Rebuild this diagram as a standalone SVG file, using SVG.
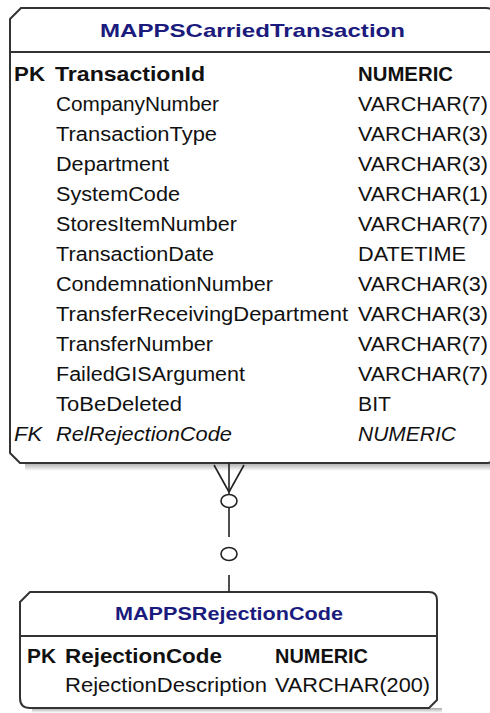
<svg xmlns="http://www.w3.org/2000/svg" width="490" height="713" viewBox="0 0 490 713">
<style>
.box{fill:#fff;stroke:#333;stroke-width:2}
.sep{stroke:#333;stroke-width:2}
.title{font-family:"Liberation Sans",Arial,sans-serif;font-weight:bold;font-size:19px;fill:#1b1b7d}
.row{font-family:"Liberation Sans",Arial,sans-serif;font-size:20px;fill:#111}
.pk{font-weight:bold}
.fk{font-style:italic}
.con{stroke:#222;stroke-width:1.6;fill:none}
</style>
<defs>
<linearGradient id="sh" x1="0" y1="0" x2="0" y2="1">
<stop offset="0" stop-color="#aaa"/>
<stop offset="1" stop-color="#fff"/>
</linearGradient>
</defs>
<rect width="490" height="713" fill="#fff"/>
<g id="MAPPSCarriedTransaction">
<rect x="25" y="463" width="470" height="8" fill="url(#sh)"/>
<path class="box" d="M10,19 L21,8 H486 Q494,8 494,16 V455 Q494,463 486,463 H20 L10,453 Z"/>
<line class="sep" x1="10" y1="52" x2="494" y2="52"/>
<text class="title" x="100" y="37" textLength="305" lengthAdjust="spacingAndGlyphs">MAPPSCarriedTransaction</text>
<g class="row">
<text class="pk" x="14" y="81" textLength="31" lengthAdjust="spacingAndGlyphs">PK</text>
<text class="pk" x="55" y="81" textLength="150" lengthAdjust="spacingAndGlyphs">TransactionId</text>
<text class="pk" x="358" y="81" textLength="95" lengthAdjust="spacingAndGlyphs">NUMERIC</text>
<text x="56" y="111" textLength="163" lengthAdjust="spacingAndGlyphs">CompanyNumber</text><text x="358" y="111" textLength="130" lengthAdjust="spacingAndGlyphs">VARCHAR(7)</text>
<text x="56" y="141" textLength="161" lengthAdjust="spacingAndGlyphs">TransactionType</text><text x="358" y="141" textLength="130" lengthAdjust="spacingAndGlyphs">VARCHAR(3)</text>
<text x="56" y="171" textLength="113" lengthAdjust="spacingAndGlyphs">Department</text><text x="358" y="171" textLength="130" lengthAdjust="spacingAndGlyphs">VARCHAR(3)</text>
<text x="56" y="201" textLength="124" lengthAdjust="spacingAndGlyphs">SystemCode</text><text x="358" y="201" textLength="130" lengthAdjust="spacingAndGlyphs">VARCHAR(1)</text>
<text x="56" y="231" textLength="181" lengthAdjust="spacingAndGlyphs">StoresItemNumber</text><text x="358" y="231" textLength="130" lengthAdjust="spacingAndGlyphs">VARCHAR(7)</text>
<text x="56" y="261" textLength="158" lengthAdjust="spacingAndGlyphs">TransactionDate</text><text x="358" y="261" textLength="108" lengthAdjust="spacingAndGlyphs">DATETIME</text>
<text x="56" y="291" textLength="217" lengthAdjust="spacingAndGlyphs">CondemnationNumber</text><text x="358" y="291" textLength="130" lengthAdjust="spacingAndGlyphs">VARCHAR(3)</text>
<text x="56" y="321" textLength="292" lengthAdjust="spacingAndGlyphs">TransferReceivingDepartment</text><text x="358" y="321" textLength="130" lengthAdjust="spacingAndGlyphs">VARCHAR(3)</text>
<text x="56" y="351" textLength="157" lengthAdjust="spacingAndGlyphs">TransferNumber</text><text x="358" y="351" textLength="130" lengthAdjust="spacingAndGlyphs">VARCHAR(7)</text>
<text x="56" y="381" textLength="189" lengthAdjust="spacingAndGlyphs">FailedGISArgument</text><text x="358" y="381" textLength="130" lengthAdjust="spacingAndGlyphs">VARCHAR(7)</text>
<text x="56" y="411" textLength="126" lengthAdjust="spacingAndGlyphs">ToBeDeleted</text><text x="358" y="411" textLength="33" lengthAdjust="spacingAndGlyphs">BIT</text>
<text class="fk" x="14" y="441" textLength="28" lengthAdjust="spacingAndGlyphs">FK</text>
<text class="fk" x="56" y="441" textLength="176" lengthAdjust="spacingAndGlyphs">RelRejectionCode</text>
<text class="fk" x="358" y="441" textLength="98" lengthAdjust="spacingAndGlyphs">NUMERIC</text>
</g>
</g>
<g id="MAPPSRejectionCode">
<rect x="32" y="708" width="410" height="5" fill="url(#sh)"/>
<path class="box" d="M20,602 L30,592 H429 Q437,592 437,600 V700 L429,708 H30 Q20,708 20,698 Z"/>
<line class="sep" x1="20" y1="636" x2="437" y2="636"/>
<text class="title" x="229" y="620" text-anchor="middle" textLength="228" lengthAdjust="spacingAndGlyphs">MAPPSRejectionCode</text>
<g class="row">
<text class="pk" x="27" y="663" textLength="29" lengthAdjust="spacingAndGlyphs">PK</text>
<text class="pk" x="65" y="663" textLength="157" lengthAdjust="spacingAndGlyphs">RejectionCode</text>
<text class="pk" x="275" y="663" textLength="93" lengthAdjust="spacingAndGlyphs">NUMERIC</text>
<text x="65" y="692" textLength="202" lengthAdjust="spacingAndGlyphs">RejectionDescription</text>
<text x="275" y="692" textLength="155" lengthAdjust="spacingAndGlyphs">VARCHAR(200)</text>
</g>
</g>
<g id="connectors">
<line class="con" x1="229" y1="463" x2="229" y2="495"/>
<line class="con" x1="214" y1="465" x2="229" y2="492"/>
<line class="con" x1="244" y1="465" x2="229" y2="492"/>
<ellipse class="con" cx="229" cy="501" rx="8" ry="6.5"/>
<line class="con" x1="229" y1="508" x2="229" y2="537"/>
<ellipse class="con" cx="229" cy="554" rx="8" ry="6.5"/>
<line class="con" x1="229" y1="575" x2="229" y2="592"/>
</g>
</svg>
